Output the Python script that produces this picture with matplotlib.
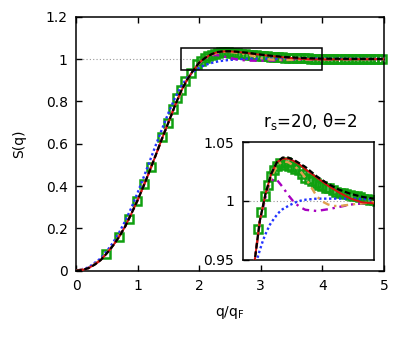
import matplotlib
matplotlib.use("Agg")
import matplotlib.pyplot as plt

# black dashed curve
q_black = [0.0, 0.1, 0.2, 0.3, 0.4, 0.5, 0.6, 0.7, 0.8, 0.9, 1.0, 1.1, 1.2, 1.3, 1.4, 1.5,
           1.6, 1.7, 1.8, 1.9, 2.0, 2.1, 2.2, 2.3, 2.4, 2.5, 2.6, 2.7, 2.8, 2.9, 3.0,
           3.2, 3.4, 3.6, 3.8, 4.0, 4.5, 5.0]
s_black = [0.0, 0.003, 0.012, 0.028, 0.05, 0.082, 0.118, 0.16, 0.21, 0.27, 0.333, 0.402,
           0.475, 0.55, 0.627, 0.70, 0.775, 0.845, 0.90, 0.945, 0.983, 1.006, 1.023, 1.033,
           1.037, 1.037, 1.035, 1.032, 1.029, 1.025, 1.021, 1.0145, 1.0095, 1.006, 1.0035,
           1.002, 1.0008, 1.0003]

# red solid curve
q_red = [0.0, 0.1, 0.2, 0.3, 0.4, 0.5, 0.6, 0.7, 0.8, 0.9, 1.0, 1.1, 1.2, 1.3, 1.4, 1.5,
         1.6, 1.7, 1.8, 1.9, 2.0, 2.1, 2.2, 2.3, 2.4, 2.5, 2.6, 2.7, 2.8, 3.0, 3.2, 3.4,
         3.6, 3.8, 4.0, 4.5, 5.0]
s_red = [0.0, 0.003, 0.012, 0.028, 0.05, 0.082, 0.118, 0.16, 0.21, 0.27, 0.333, 0.402,
         0.475, 0.55, 0.627, 0.70, 0.775, 0.845, 0.90, 0.945, 0.983, 1.006, 1.023, 1.033,
         1.036, 1.036, 1.034, 1.031, 1.027, 1.020, 1.013, 1.007, 1.002, 0.9988, 0.998,
         0.9988, 0.9995]

# orange dash-dot curve
q_orange = [0.0, 0.2, 0.4, 0.6, 0.8, 1.0, 1.2, 1.4, 1.6, 1.8, 1.9, 2.0, 2.1, 2.2, 2.3, 2.4,
            2.5, 2.6, 2.7, 2.8, 2.9, 3.0, 3.1, 3.2, 3.3, 3.4, 3.6, 3.8, 4.0, 4.5, 5.0]
s_orange = [0.0, 0.012, 0.05, 0.118, 0.21, 0.333, 0.475, 0.627, 0.775, 0.90, 0.945, 0.983,
            1.005, 1.020, 1.030, 1.034, 1.033, 1.030, 1.026, 1.020, 1.012, 1.004, 0.9995,
            0.997, 0.9958, 0.9957, 0.997, 0.998, 0.999, 0.9995, 1.0]

# magenta dash-dot curve
q_magenta = [0.0, 0.2, 0.4, 0.6, 0.8, 1.0, 1.2, 1.4, 1.6, 1.8, 1.9, 2.0, 2.1, 2.15, 2.2,
             2.25, 2.3, 2.4, 2.5, 2.6, 2.7, 2.8, 3.0, 3.2, 3.4, 3.6, 3.8, 4.0, 4.5, 5.0]
s_magenta = [0.0, 0.012, 0.05, 0.118, 0.21, 0.333, 0.475, 0.627, 0.775, 0.90, 0.945, 0.982,
             1.003, 1.012, 1.017, 1.019, 1.018, 1.012, 1.005, 0.999, 0.995, 0.9925, 0.9915,
             0.993, 0.995, 0.997, 0.998, 0.999, 0.9998, 1.0]

# blue dotted curve
q_blue = [0.0, 0.2, 0.4, 0.5, 0.6, 0.7, 0.8, 0.9, 1.0, 1.1, 1.2, 1.3, 1.4, 1.5, 1.6, 1.7,
          1.8, 1.9, 1.95, 2.0, 2.06, 2.12, 2.18, 2.25, 2.32, 2.4, 2.53, 2.65, 2.76, 3.0,
          3.5, 4.0, 4.5, 5.0]
s_blue = [0.0, 0.015, 0.058, 0.092, 0.132, 0.18, 0.235, 0.298, 0.368, 0.443, 0.52, 0.597,
          0.672, 0.745, 0.812, 0.868, 0.91, 0.938, 0.950, 0.958, 0.967, 0.974, 0.980, 0.985,
          0.9895, 0.993, 0.9966, 0.9993, 1.0009, 1.002, 1.002, 1.0015, 1.0008, 1.0003]

# green squares (simulation data)
q_sim = [0.49, 0.70, 0.86, 0.99, 1.11, 1.22, 1.40, 1.49, 1.57, 1.64, 1.70, 1.77, 1.86,
         1.97, 2.03, 2.09, 2.15, 2.20, 2.25, 2.31, 2.36, 2.41, 2.46, 2.51, 2.56, 2.62,
         2.68, 2.74, 2.80, 2.86, 2.92, 2.98, 3.04, 3.10, 3.16, 3.22, 3.28, 3.34, 3.40,
         3.46, 3.52, 3.58, 3.64, 3.70, 3.76, 3.82, 3.88, 3.94, 4.00, 4.06, 4.12, 4.18,
         4.24, 4.30, 4.36, 4.42, 4.48, 4.54, 4.60, 4.66, 4.72, 4.78, 4.84, 4.90, 4.97]
s_sim = [0.08, 0.158, 0.242, 0.327, 0.408, 0.488, 0.632, 0.700, 0.762, 0.815, 0.855, 0.895,
         0.935, 0.976, 0.991, 1.004, 1.014, 1.021, 1.026, 1.030, 1.032, 1.031, 1.033, 1.030,
         1.029, 1.027, 1.026, 1.023, 1.020, 1.019, 1.017, 1.015, 1.014, 1.013, 1.011, 1.011,
         1.009, 1.008, 1.007, 1.007, 1.006, 1.005, 1.004, 1.004, 1.003, 1.002, 1.002, 1.001,
         1.001, 1.000, 1.001, 1.000, 1.000, 1.001, 1.000, 1.000, 1.000, 1.001, 1.000,
         1.000, 1.000, 1.000, 1.000, 1.000, 1.000]

x_ticks = [0, 1, 2, 3, 4, 5]
y_ticks = [0, 0.2, 0.4, 0.6, 0.8, 1.0, 1.2]
y_tick_labels = ['0', '0.2', '0.4', '0.6', '0.8', '1', '1.2']
inset_ticks = [0.95, 1.0, 1.05]
inset_tick_labels = ['0.95', '1', '1.05']


def draw_curves(ax, clip=True):
    ax.axhline(1.0, color='#999999', lw=0.8, linestyle=(0, (1, 2)), zorder=1)
    ax.plot(q_sim, s_sim, linestyle='none', marker='s', ms=6, mfc='none',
            mec='#10a010', mew=1.8, zorder=2, clip_on=clip)
    ax.plot(q_blue, s_blue, color='#2233ff', lw=1.7, linestyle=(0, (1, 1.1)), zorder=3)
    ax.plot(q_magenta, s_magenta, color='#a800c0', lw=1.7, linestyle=(0, (3, 2, 1, 2)), zorder=3)
    ax.plot(q_orange, s_orange, color='#e0a050', lw=1.7, linestyle=(0, (3, 2, 1, 2)), zorder=3)
    ax.plot(q_red, s_red, color='#d81010', lw=1.4, zorder=4)
    ax.plot(q_black, s_black, color='black', lw=1.6, linestyle=(0, (2.6, 1.2)), zorder=5)


fig = plt.figure(figsize=(4.11, 3.40), dpi=100)
ax = fig.add_axes([76 / 411, (340 - 270.7) / 340, 308 / 411, 254 / 340])
draw_curves(ax, clip=False)
ax.set_xlim(0, 5)
ax.set_ylim(0, 1.2)
ax.set_xticks(x_ticks)
ax.set_yticks(y_ticks)
ax.set_yticklabels(y_tick_labels)
ax.tick_params(direction='in', top=True, right=True, length=4.3, width=1.0,
               labelsize=10, pad=6)
for sp in ax.spines.values():
    sp.set_linewidth(1.1)
ax.set_xlabel(r'q/q$_\mathregular{F}$', fontsize=10, labelpad=8)
ax.set_ylabel('S(q)', fontsize=10, labelpad=14)

# zoom box
ax.add_patch(plt.Rectangle((1.7, 0.95), 2.3, 0.1, fill=False, ec='black', lw=1.1, zorder=6))

ax.text(3.03, 0.68, r'r$_\mathregular{s}$=20, θ=2', fontsize=12, ha='left', va='baseline')

# inset
axi = fig.add_axes([242.7 / 411, (340 - 259.7) / 340, 131 / 411, 117.4 / 340])
draw_curves(axi)
axi.set_xlim(1.7, 4.0)
axi.set_ylim(0.95, 1.05)
axi.set_xticks([])
axi.set_yticks(inset_ticks)
axi.set_yticklabels(inset_tick_labels)
axi.tick_params(direction='in', length=4.3, width=1.0, labelsize=10, pad=6)
for sp in axi.spines.values():
    sp.set_linewidth(1.1)

fig.savefig('out.png', dpi=100)
